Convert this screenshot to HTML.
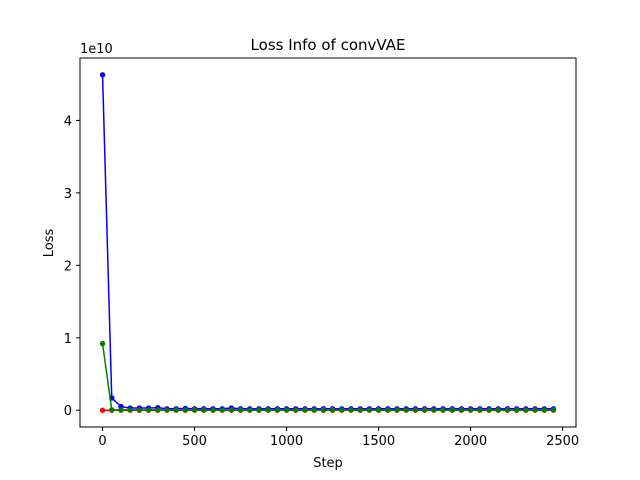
<!DOCTYPE html>
<html><head><meta charset="utf-8"><style>body{margin:0;background:#fff}svg{display:block;font-family:"DejaVu Sans","Liberation Sans",sans-serif}</style></head>
<body>
<svg id="chart" width="640" height="480">
<rect width="640" height="480" fill="#fff"/>
<text x="328" y="50" font-size="15" text-anchor="middle">Loss Info of convVAE</text>
<text x="328" y="467" font-size="13" text-anchor="middle">Step</text>
<text x="53" y="243" font-size="13" text-anchor="middle" transform="rotate(-90 53 243)">Loss</text>
<text x="80" y="53" font-size="13">1e10</text>
<g id="ticks"></g>
<g id="series"></g>
<rect x="80" y="58" width="496" height="369" fill="none" stroke="#000" stroke-width="1"/>
</svg>
<script>
const xTicks=[0,500,1000,1500,2000,2500];
const yTicks=[0,1,2,3,4];
const steps=[];for(let i=0;i<50;i++)steps.push(i*50);
const blueLoss=[4.63,0.17,0.05,0.03,0.03,0.03,0.035,0.02,0.02,0.025,0.02,0.02,0.02,0.02,0.03,0.02,0.02,0.02,0.02,0.02,0.02,0.02,0.02,0.02,0.02,0.02,0.02,0.02,0.02,0.02,0.02,0.02,0.02,0.02,0.02,0.02,0.02,0.02,0.02,0.02,0.02,0.02,0.02,0.02,0.02,0.02,0.02,0.02,0.02,0.02];
const redLoss=steps.map(()=>0);
const greenLoss=[0.92].concat(steps.slice(1).map(()=>0.005));
const X=v=>80+(v+122.5)*496/2695;
const Y=v=>427-(v+0.2315)*369/5.093;
const NS="http://www.w3.org/2000/svg";
function mk(t,a,p){const e=document.createElementNS(NS,t);for(const k in a)e.setAttribute(k,a[k]);p.appendChild(e);return e;}
const tg=document.getElementById('ticks');
xTicks.forEach(t=>{
const l=mk('line',{x1:X(t),x2:X(t),y1:427,y2:431,stroke:'#000'},tg);


const s=mk('text',{x:X(t),y:445,'font-size':13,'text-anchor':'middle'},tg);s.textContent=t;


});
yTicks.forEach(t=>{
const l=mk('line',{x1:76,x2:80,y1:Y(t),y2:Y(t),stroke:'#000'},tg);


const s=mk('text',{x:72,y:Y(t)+5,'font-size':13,'text-anchor':'end'},tg);s.textContent=t;


});
const sg=document.getElementById('series');
[[redLoss,'#ff0000','red-loss'],[blueLoss,'#0000ff','blue-loss'],[greenLoss,'#008000','green-loss']].forEach(([d,c,n])=>{
const g=mk('g',{},sg);


const pl=mk('polyline',{points:d.map((v,i)=>X(steps[i])+','+Y(v)).join(' '),fill:'none',stroke:c,'stroke-width':1.5},g);


d.forEach((v,i)=>{const p=mk('circle',{cx:X(steps[i]),cy:Y(v),r:2.7,fill:c},g);

});
});
</script>
</body></html>
